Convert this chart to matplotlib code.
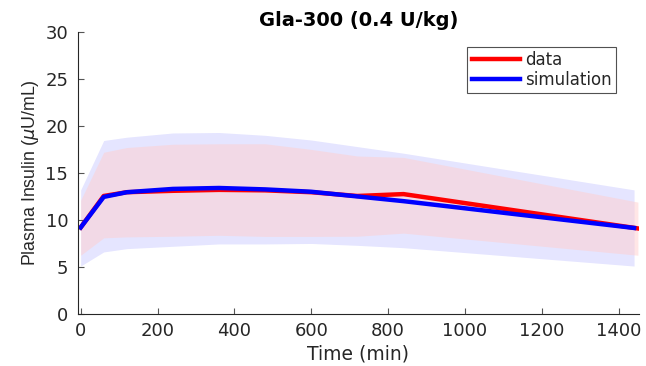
import matplotlib

matplotlib.use("Agg")
import matplotlib.pyplot as plt

plt.rcParams["font.family"] = ["DejaVu Sans"]
plt.rcParams["mathtext.fontset"] = "dejavusans"

# measured insulin (mean and spread)
t_data = [0, 60, 120, 240, 360, 480, 600, 720, 840, 1450]
ins_data = [9.2, 12.55, 12.95, 13.1, 13.2, 13.15, 12.95, 12.55, 12.75, 9.1]
data_lo = [6.25, 8.1, 8.2, 8.27, 8.37, 8.25, 8.25, 8.27, 8.6, 6.25]
data_hi = [12.1, 17.2, 17.7, 18.05, 18.1, 18.1, 17.5, 16.8, 16.65, 11.9]

# model prediction
t_sim = [0, 60, 120, 240, 360, 480, 600, 720, 840, 1440]
ins_sim = [9.2, 12.45, 12.95, 13.3, 13.4, 13.25, 13.0, 12.5, 12.0, 9.15]
sim_lo = [5.1, 6.6, 6.95, 7.2, 7.45, 7.45, 7.5, 7.3, 7.05, 5.1]
sim_hi = [13.2, 18.45, 18.8, 19.25, 19.3, 19.0, 18.5, 17.8, 17.1, 13.2]

ink = "#262626"

fig = plt.figure(figsize=(6.46, 3.66), dpi=100)
ax = fig.add_axes([0.1207, 0.142, 0.868, 0.771])

# shaded ranges: simulation band underneath, data band on top
ax.fill_between(t_sim, sim_lo, sim_hi, color="blue", alpha=0.1, lw=0)
ax.fill_between(t_data, data_lo, data_hi, color="#ffcfcf", alpha=0.52, lw=0)
ax.plot(t_data, ins_data, color="red", lw=3.2, label="data")
ax.plot(t_sim, ins_sim, color="blue", lw=3.2, label="simulation")

ax.set_xlim(-7, 1452)
ax.set_ylim(0, 30)
ax.set_xticks(range(0, 1401, 200))
ax.set_yticks(range(0, 31, 5))
ax.tick_params(direction="in", labelsize=13, color="#555555", labelcolor=ink, length=4)
ax.tick_params(axis="x", pad=6)
ax.tick_params(axis="y", pad=7)
for side in ("top", "right"):
    ax.spines[side].set_visible(False)
for side in ("left", "bottom"):
    ax.spines[side].set_color(ink)
ax.set_xlabel("Time (min)", fontsize=13.5, color=ink, labelpad=3)
ax.set_ylabel(r"Plasma Insulin ($\mu$U/mL)", color=ink, labelpad=3,
              family=["Liberation Sans"], fontsize=12.8)
ax.set_title("Gla-300 (0.4 U/kg)", fontsize=14, fontweight="bold", pad=4)

leg = ax.legend(loc="upper right", bbox_to_anchor=(0.959, 0.946), borderaxespad=0,
                fancybox=False, edgecolor=ink, fontsize=12,
                handlelength=2.9, handletextpad=0.3, borderpad=0.25, labelspacing=0.1)
leg.get_frame().set_linewidth(0.8)
for txt in leg.get_texts():
    txt.set_color(ink)

fig.savefig("out.png", dpi=100)
